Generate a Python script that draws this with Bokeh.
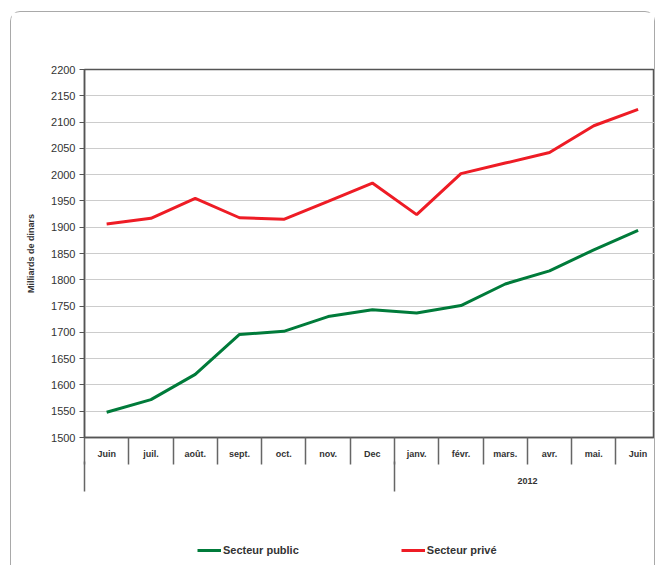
from bokeh.plotting import figure
from bokeh.layouts import column
from bokeh.models import Range1d, FixedTicker, LinearAxis, Legend, LegendItem, Grid
from bokeh.embed import file_html
from bokeh.resources import INLINE

months = ["Juin", "juil.", "août.", "sept.", "oct.", "nov.", "Dec",
          "janv.", "févr.", "mars.", "avr.", "mai.", "Juin"]
year_label = "2012"
public = [1548, 1572, 1620, 1696, 1702, 1730, 1743, 1737, 1751, 1792, 1817, 1857, 1894]
prive = [1906, 1917, 1955, 1918, 1915, 1949, 1984, 1924, 2002, 2022, 2042, 2093, 2124]
y_ticks = list(range(1500, 2201, 50))
series_names = ["Secteur public", "Secteur privé"]
series_colors = ["#007b3a", "#ee1c25"]

xs = list(range(len(months)))
FONT = "Liberation Sans"
DARK = "#333333"

p = figure(width=643, height=485, output_backend="svg", toolbar_location=None,
           x_range=Range1d(-0.5, 12.37), y_range=Range1d(1500, 2200),
           x_axis_type=None, y_axis_type=None,
           min_border_left=73, min_border_right=0, min_border_top=57, min_border_bottom=60)
p.outline_line_color = "#555555"
p.outline_line_width = 1.5
p.background_fill_color = "white"
p.border_fill_color = "white"

# Y axis
yt = FixedTicker(ticks=y_ticks)
yax = LinearAxis(ticker=yt)
yax.axis_line_color = "#555555"
yax.axis_line_width = 1.5
yax.major_tick_out = 5
yax.major_tick_in = 0
yax.major_tick_line_color = "#555555"
yax.minor_tick_line_color = None
yax.major_label_text_font = FONT
yax.major_label_text_font_size = "11px"
yax.major_label_text_color = DARK
yax.major_label_standoff = 4
yax.axis_label = "Milliards de dinars"
yax.axis_label_text_font = FONT
yax.axis_label_text_font_style = "bold"
yax.axis_label_text_font_size = "9px"
yax.axis_label_text_color = DARK
yax.axis_label_standoff = 12
p.add_layout(yax, "left")
p.add_layout(Grid(dimension=1, ticker=yt, grid_line_color="#cccccc", grid_line_width=1))

# X axis: month labels with separators
xt = FixedTicker(ticks=xs, minor_ticks=[i + 0.5 for i in range(-1, len(months))])
xax = LinearAxis(ticker=xt)
xax.major_label_overrides = {i: m for i, m in enumerate(months)}
xax.axis_line_color = "#555555"
xax.axis_line_width = 1.5
xax.major_tick_out = 0
xax.major_tick_in = 0
xax.minor_tick_out = 27
xax.minor_tick_in = 0
xax.minor_tick_line_color = "#666666"
xax.minor_tick_line_width = 1.5
xax.major_label_text_font = FONT
xax.major_label_text_font_style = "bold"
xax.major_label_text_font_size = "9px"
xax.major_label_text_color = DARK
xax.major_label_standoff = -16
p.add_layout(xax, "below")

# Second level: year
gt = FixedTicker(ticks=[9.5], minor_ticks=[-0.5, 6.5])
gax = LinearAxis(ticker=gt)
gax.major_label_overrides = {9.5: year_label}
gax.axis_line_color = None
gax.major_tick_out = 0
gax.major_tick_in = 0
gax.minor_tick_out = 30
gax.minor_tick_in = 0
gax.minor_tick_line_color = "#666666"
gax.minor_tick_line_width = 1.5
gax.major_label_text_font = FONT
gax.major_label_text_font_style = "bold"
gax.major_label_text_font_size = "9px"
gax.major_label_text_color = DARK
gax.major_label_standoff = -14
p.add_layout(gax, "below")

g = p.line(xs, public, line_color=series_colors[0], line_width=3)
r = p.line(xs, prive, line_color=series_colors[1], line_width=3)

# Legend panel below the chart (legend lines reuse the series styles; their data lie outside the view)
q = figure(width=643, height=68, output_backend="svg", toolbar_location=None,
           x_range=Range1d(0, 1), y_range=Range1d(0, 1),
           x_axis_type=None, y_axis_type=None,
           min_border_left=0, min_border_right=0, min_border_top=0, min_border_bottom=0)
q.outline_line_color = None
q.background_fill_color = "white"
q.border_fill_color = "white"
lg = q.line([0, 1], [-10, -10], line_color=series_colors[0], line_width=3)
lr = q.line([0, 1], [-10, -10], line_color=series_colors[1], line_width=3)

legend = Legend(items=[LegendItem(label=series_names[0], renderers=[lg]),
                       LegendItem(label=series_names[1], renderers=[lr])],
                orientation="horizontal", location=(113, 5))
legend.padding = 0
legend.margin = 0
legend.border_line_color = None
legend.background_fill_alpha = 0
legend.glyph_width = 24
legend.label_standoff = 2
legend.spacing = 102
legend.label_text_font = FONT
legend.label_text_font_style = "bold"
legend.label_text_font_size = "11px"
legend.label_text_color = DARK
q.add_layout(legend, "center")

layout = column(p, q, spacing=0)
layout.styles = {"margin-left": "10px", "margin-top": "11px",
                 "border": "1px solid #a9a9a9", "border-bottom": "none",
                 "border-radius": "10px 10px 0 0"}

open("out.html", "w").write(file_html(layout, INLINE))
